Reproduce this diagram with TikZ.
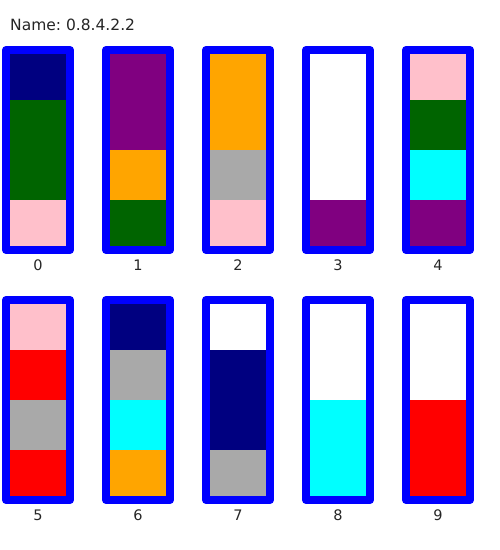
\documentclass[tikz,border=0pt]{standalone}
\usepackage{fontspec}
\setmainfont{DejaVu Sans}
\definecolor{cnavy}{RGB}{0,0,128}
\definecolor{cgreen}{RGB}{0,100,0}
\definecolor{cpink}{RGB}{255,192,203}
\definecolor{cpurple}{RGB}{128,0,128}
\definecolor{corange}{RGB}{255,165,0}
\definecolor{cgray}{RGB}{169,169,169}
\definecolor{ccyan}{RGB}{0,255,255}
\definecolor{cred}{RGB}{255,0,0}
\definecolor{cwhite}{RGB}{255,255,255}
\definecolor{cblue}{RGB}{0,0,255}
\tikzset{
  tubeborder/.style={draw=cblue, line width=8pt, line join=round},
  tubelabel/.style={font=\fontsize{14.5}{16}\selectfont, text=black!85, inner sep=0pt},
}
% #1 = x left, #2 = y top, #3 = list of colors (top to bottom, 4 units)
\newcommand{\mytube}[4]{%
  \foreach \c [count=\k from 0] in {#3} {
    \fill[\c] (#1,#2+\k*50) rectangle (#1+64,#2+\k*50+50);
  }
  \draw[tubeborder] (#1,#2) rectangle (#1+64,#2+200);
  \node[tubelabel] (lab#4) at (#1+32,#2+215) {#4};
}
\begin{document}
\begin{tikzpicture}[x=1pt,y=-1pt]
\useasboundingbox (0,0) rectangle (500,550);
\fill[white] (0,0) rectangle (500,550);
\node[anchor=west, font=\fontsize{15.5}{18}\selectfont, text=black!85, inner sep=0pt] (title) at (10,25) {Name:\ 0.8.4.2.2};
\mytube{6}{50}{cnavy,cgreen,cgreen,cpink}{0}
\mytube{106}{50}{cpurple,cpurple,corange,cgreen}{1}
\mytube{206}{50}{corange,corange,cgray,cpink}{2}
\mytube{306}{50}{cwhite,cwhite,cwhite,cpurple}{3}
\mytube{406}{50}{cpink,cgreen,ccyan,cpurple}{4}
\mytube{6}{300}{cpink,cred,cgray,cred}{5}
\mytube{106}{300}{cnavy,cgray,ccyan,corange}{6}
\mytube{206}{300}{cwhite,cnavy,cnavy,cgray}{7}
\mytube{306}{300}{cwhite,cwhite,ccyan,ccyan}{8}
\mytube{406}{300}{cwhite,cwhite,cred,cred}{9}
\end{tikzpicture}
\end{document}
